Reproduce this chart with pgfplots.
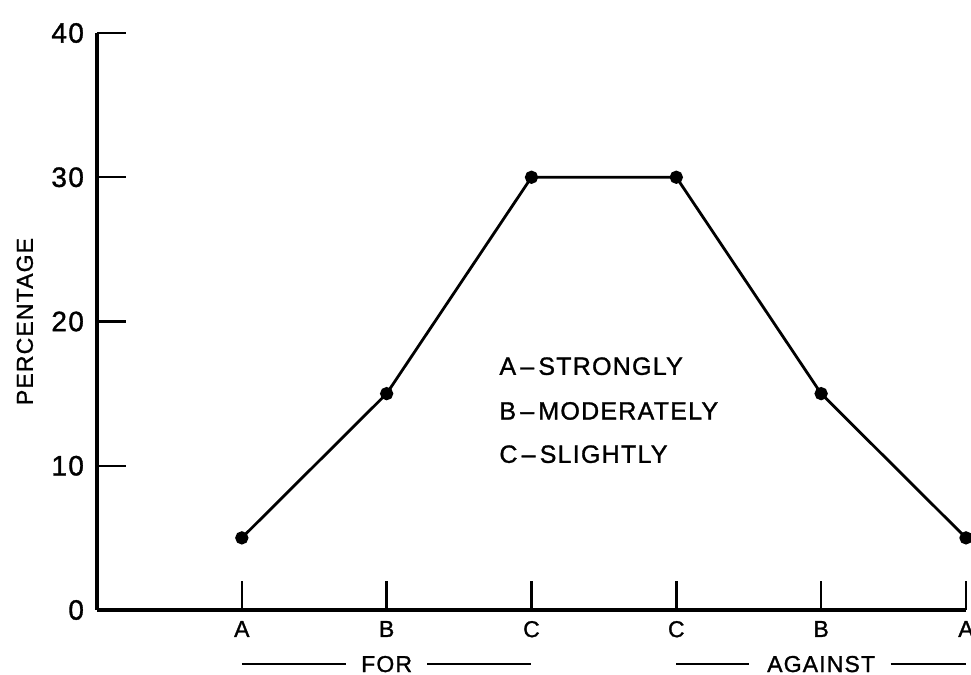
\documentclass[border=0pt]{standalone}
\usepackage{fontspec}
\setmainfont{Liberation Sans}[LetterSpace=5, FakeBold=1.2]
\usepackage{pgfplots}
\pgfplotsset{compat=1.18}

\begin{document}
\begin{tikzpicture}
\useasboundingbox (-48.5pt,-32.5pt) rectangle (437pt,305pt);
\begin{axis}[
    at={(0,0)}, anchor=south west,
    scale only axis,
    width=434.5pt, height=288.5pt,
    xmin=0, xmax=6,
    ymin=0, ymax=40,
    axis x line=bottom, axis y line=left,
    axis line style={-, line width=1.7pt},
    xtick={1,2,3,4,5,6},
    xticklabels={A,B,C,C,B,A},
    ytick={0,10,20,30,40},
    tick align=inside,
    major tick length=14.5pt,
    tick style={line width=1.2pt, black},
    /pgf/number format/assume math mode=true,
    yticklabel style={font=\fontsize{14}{14}\selectfont, xshift=-3pt},
    xticklabel style={font=\fontsize{11.5}{12}\selectfont, yshift=-2pt},
    ylabel={PERCENTAGE},
    ylabel style={at={(axis description cs:-0.083,0.5)}, anchor=center,
                  font=\fontsize{11.5}{12}\selectfont},
    clip=false,
]
\addplot[black, line width=1.4pt, mark=*, mark size=2.6pt]
    coordinates {(1,5)(2,15)(3,30)(4,30)(5,15)(6,5)};

\node[anchor=west, font=\fontsize{12.5}{13}\selectfont] at (axis cs:2.73,16.9) {A\,--\,STRONGLY};
\node[anchor=west, font=\fontsize{12.5}{13}\selectfont] at (axis cs:2.73,13.8) {B\,--\,MODERATELY};
\node[anchor=west, font=\fontsize{12.5}{13}\selectfont] at (axis cs:2.73,10.8) {C\,--\,SLIGHTLY};

\node[font=\fontsize{11.5}{12}\selectfont] at (axis cs:2,-3.75) {FOR};
\draw[line width=1.2pt] (axis cs:1,-3.75) -- (axis cs:1.72,-3.75);
\draw[line width=1.2pt] (axis cs:2.28,-3.75) -- (axis cs:3,-3.75);
\node[font=\fontsize{11.5}{12}\selectfont] at (axis cs:5,-3.75) {AGAINST};
\draw[line width=1.2pt] (axis cs:4,-3.75) -- (axis cs:4.5,-3.75);
\draw[line width=1.2pt] (axis cs:5.48,-3.75) -- (axis cs:6,-3.75);
\end{axis}
\end{tikzpicture}
\end{document}
